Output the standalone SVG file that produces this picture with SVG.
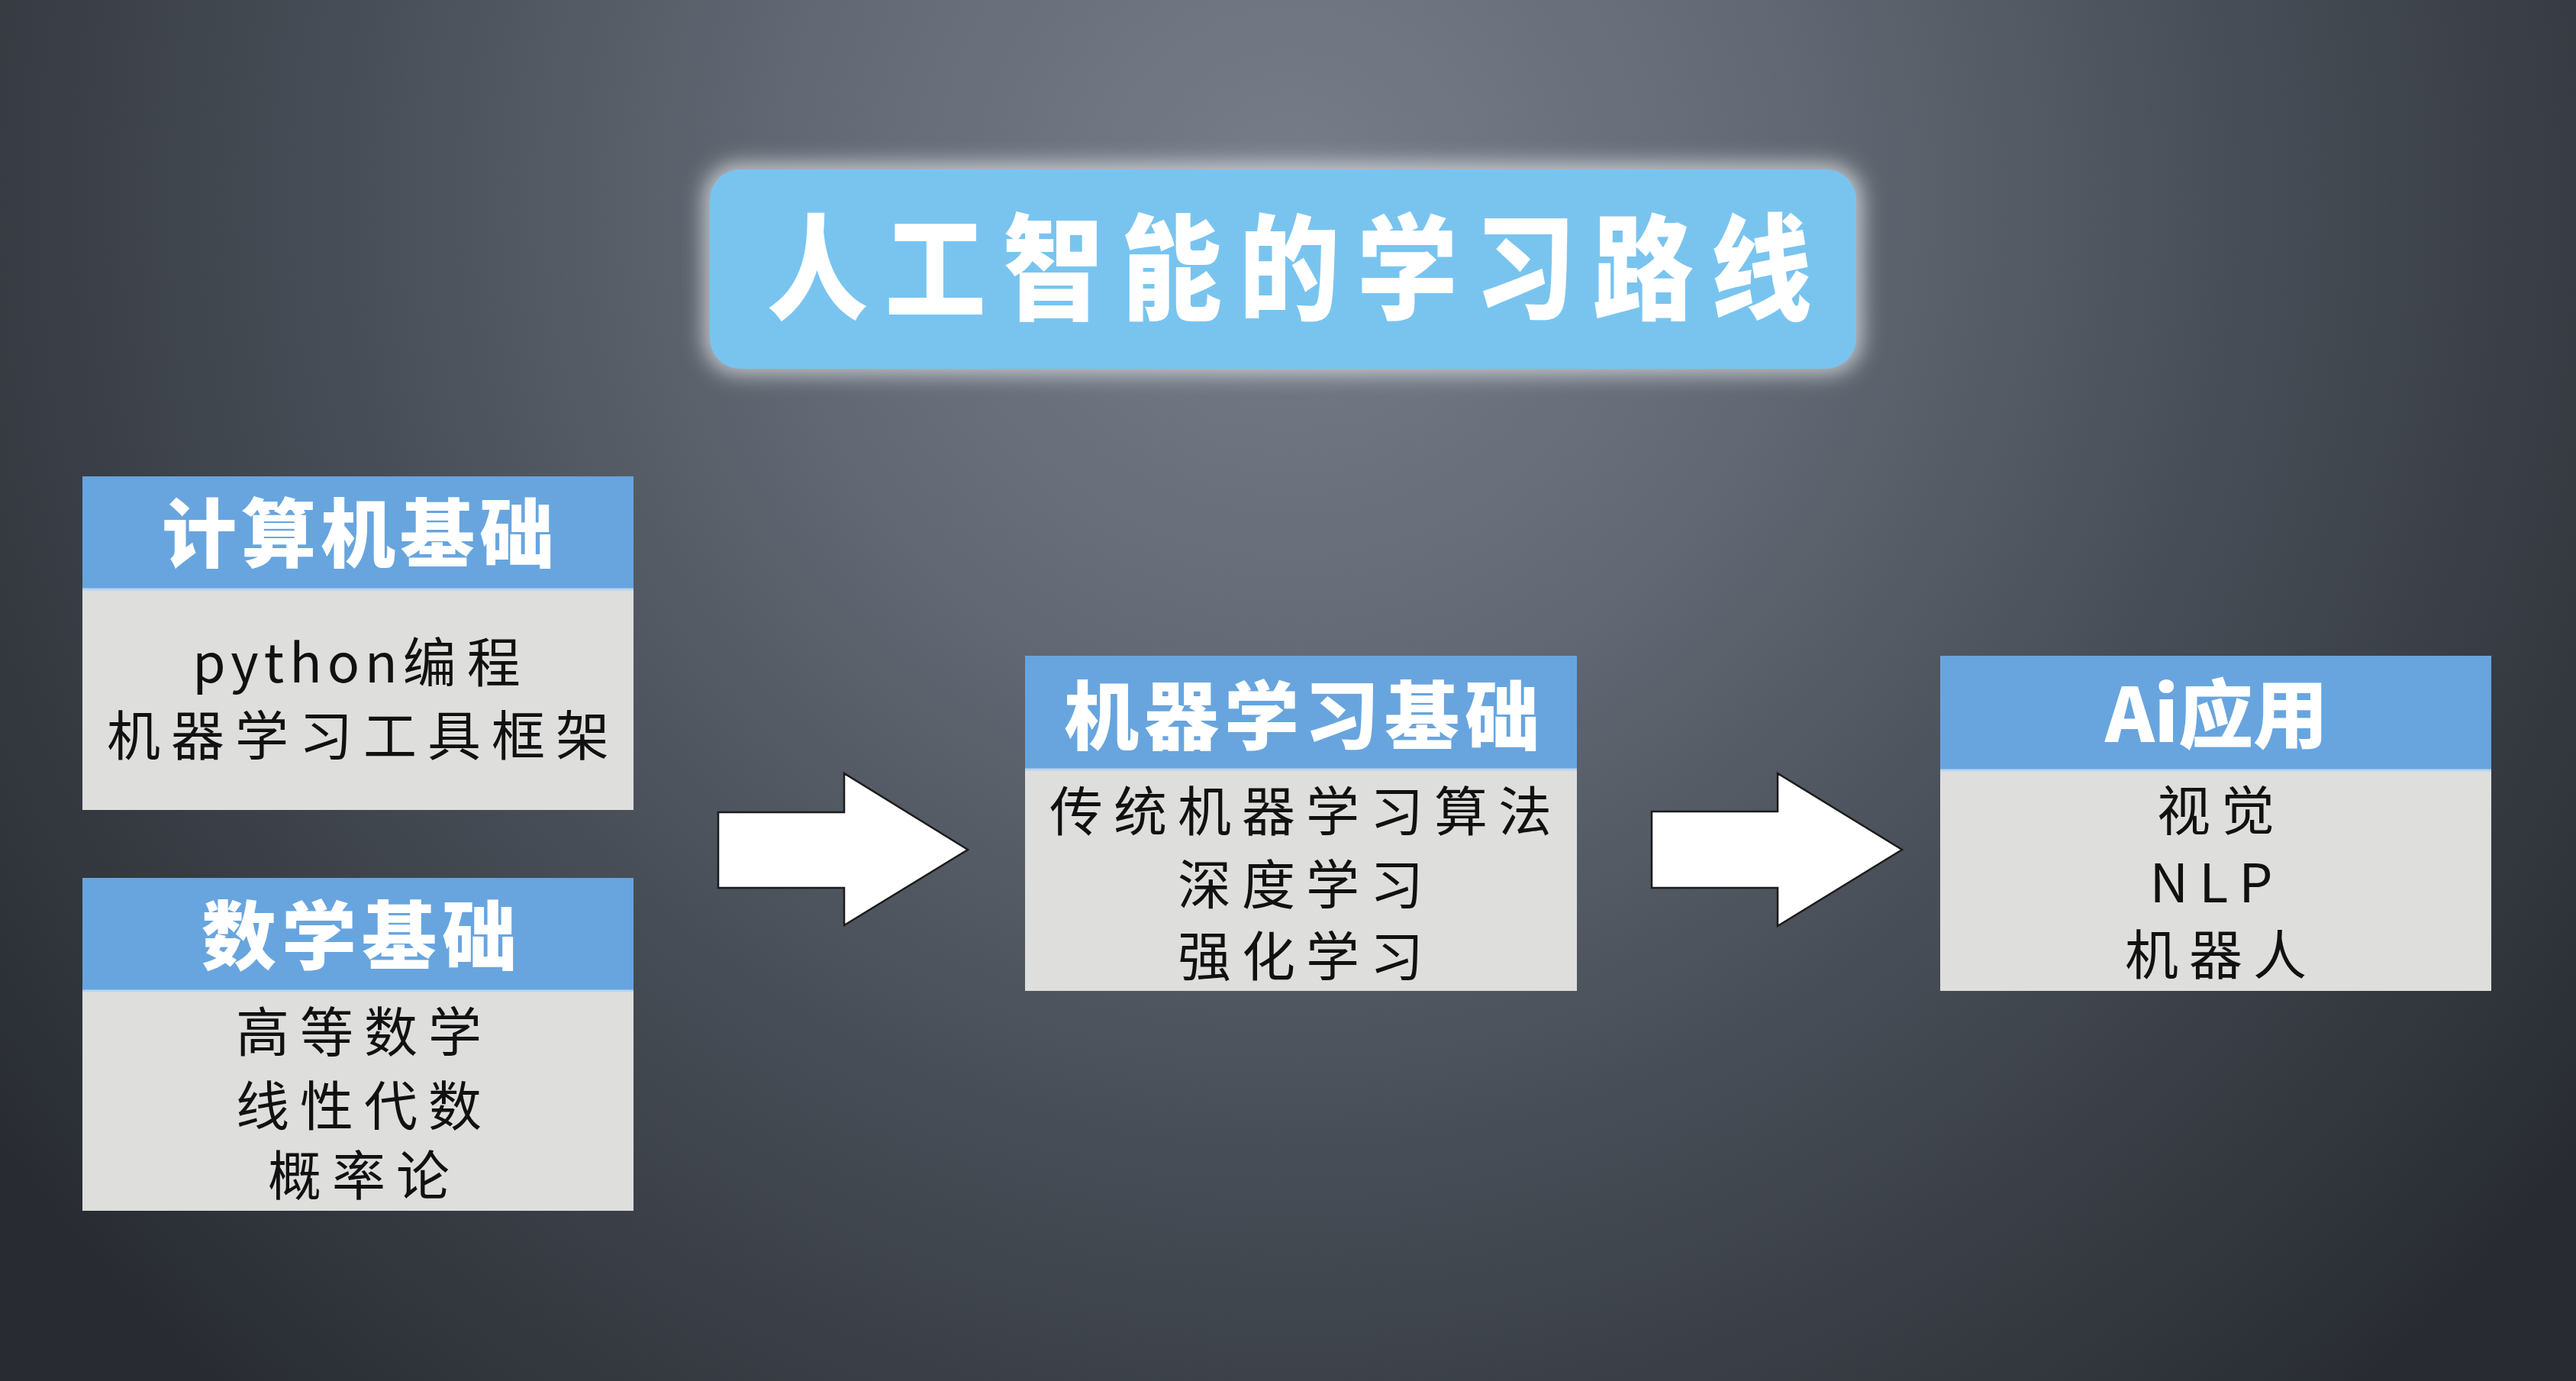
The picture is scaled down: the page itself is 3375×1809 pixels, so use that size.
<svg xmlns="http://www.w3.org/2000/svg" width="3375" height="1809" viewBox="0 0 3375 1809">
<style>
.hdr{fill:#68a5de}
.body{fill:#dededd}
.sep{stroke:#b9d5ef;stroke-width:3}
.htxt{font-family:"Noto Sans CJK SC","Noto Sans",sans-serif;font-weight:900;fill:#ffffff;text-anchor:middle}
.btxt{font-family:"Noto Sans CJK SC","Noto Sans",sans-serif;font-weight:400;fill:#111111;text-anchor:middle;font-size:70px;letter-spacing:14px}
.arrow{fill:#ffffff;stroke:#1c1c1c;stroke-width:2.5;stroke-linejoin:miter}
</style>
<defs>
<radialGradient id="bg" gradientUnits="userSpaceOnUse" cx="1690" cy="260" r="2100">
<stop offset="0" stop-color="#777e8a"/>
<stop offset="0.3" stop-color="#636a75"/>
<stop offset="0.6" stop-color="#474d56"/>
<stop offset="1" stop-color="#282c32"/>
</radialGradient>
<filter id="glow" x="-20%" y="-50%" width="140%" height="200%">
<feGaussianBlur stdDeviation="14"/>
</filter>
</defs>
<rect x="0" y="0" width="3375" height="1809" fill="url(#bg)"/>

<g id="title">
<rect x="922" y="214" width="1518" height="276" rx="46" fill="#eef1f5" opacity="0.7" filter="url(#glow)"/>
<rect x="930" y="222" width="1502" height="261" rx="40" fill="#79c4ef"/>
<text transform="translate(1005,0) scale(0.88,1)" x="0" y="407" font-family="Noto Sans CJK SC, Noto Sans, sans-serif" font-weight="900" font-size="150" fill="#ffffff" textLength="1555" lengthAdjust="spacing">人工智能的学习路线</text>
</g>

<g id="node-computer">
<rect class="hdr" x="108" y="624" width="722" height="148"/>
<rect class="body" x="108" y="772" width="722" height="289"/>
<line class="sep" x1="108" y1="772" x2="830" y2="772"/>
<text class="htxt" x="472" y="735" font-size="98" letter-spacing="6">计算机基础</text>
<text class="btxt" x="474" y="894"><tspan letter-spacing="7">python</tspan><tspan>编程</tspan></text>
<text class="btxt" x="476" y="990">机器学习工具框架</text>
</g>

<g id="node-math">
<rect class="hdr" x="108" y="1150" width="722" height="148"/>
<rect class="body" x="108" y="1298" width="722" height="288"/>
<line class="sep" x1="108" y1="1298" x2="830" y2="1298"/>
<text class="htxt" x="474" y="1262" font-size="98" letter-spacing="7">数学基础</text>
<text class="btxt" x="477" y="1378">高等数学</text>
<text class="btxt" x="477" y="1475">线性代数</text>
<text class="btxt" x="477" y="1566">概率论</text>
</g>

<g id="node-ml">
<rect class="hdr" x="1343" y="859" width="723" height="149"/>
<rect class="body" x="1343" y="1008" width="723" height="290"/>
<line class="sep" x1="1343" y1="1008" x2="2066" y2="1008"/>
<text class="htxt" x="1709" y="974" font-size="98" letter-spacing="7">机器学习基础</text>
<text class="btxt" x="1711" y="1089">传统机器学习算法</text>
<text class="btxt" x="1711" y="1185">深度学习</text>
<text class="btxt" x="1711" y="1279">强化学习</text>
</g>

<g id="node-ai">
<rect class="hdr" x="2542" y="859" width="722" height="150"/>
<rect class="body" x="2542" y="1009" width="722" height="289"/>
<line class="sep" x1="2542" y1="1009" x2="3264" y2="1009"/>
<text class="htxt" x="2904" y="972" font-size="98" letter-spacing="0">Ai应用</text>
<text class="btxt" x="2910" y="1088">视觉</text>
<text class="btxt" x="2904" y="1182" letter-spacing="1">NLP</text>
<text class="btxt" x="2910" y="1277">机器人</text>
</g>

<g id="connectors">
<polygon class="arrow" points="941,1064 1106,1064 1106,1013 1268,1113 1106,1212 1106,1163 941,1163"/>
<polygon class="arrow" points="2164,1063 2329,1063 2329,1013 2492,1113 2329,1213 2329,1163 2164,1163"/>
</g>
</svg>
